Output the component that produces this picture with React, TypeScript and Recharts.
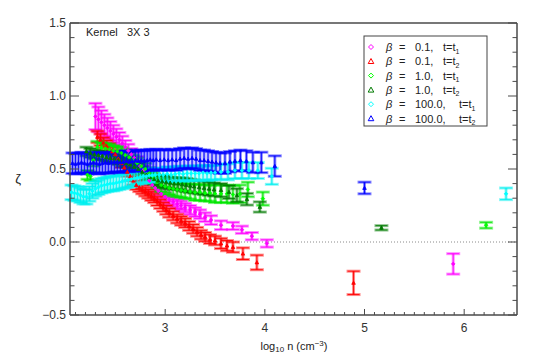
import { ComposedChart, Scatter, ErrorBar, XAxis, YAxis, ReferenceLine, Customized } from 'recharts';

// each point: [log10 n, zeta, error]
type Pt = [number, number, number];

const magentaT1: Pt[] = [
  [2.30, 0.86, 0.09], [2.33, 0.84, 0.085], [2.36, 0.82, 0.08], [2.39, 0.80, 0.075], [2.42, 0.78, 0.07],
  [2.45, 0.76, 0.065], [2.48, 0.74, 0.06], [2.51, 0.72, 0.055], [2.54, 0.70, 0.05], [2.57, 0.675, 0.05],
  [2.60, 0.65, 0.045], [2.63, 0.625, 0.045], [2.66, 0.60, 0.04], [2.69, 0.575, 0.04], [2.72, 0.55, 0.035],
  [2.75, 0.52, 0.035], [2.78, 0.49, 0.035], [2.81, 0.455, 0.035], [2.84, 0.42, 0.03], [2.87, 0.39, 0.03],
  [2.90, 0.37, 0.03], [2.93, 0.35, 0.03], [2.96, 0.33, 0.03], [3.00, 0.31, 0.03], [3.04, 0.29, 0.03],
  [3.08, 0.275, 0.03], [3.12, 0.26, 0.03], [3.16, 0.25, 0.03], [3.20, 0.235, 0.03], [3.25, 0.22, 0.03],
  [3.30, 0.205, 0.03], [3.35, 0.19, 0.03], [3.40, 0.17, 0.03], [3.46, 0.15, 0.03], [3.56, 0.115, 0.03],
  [3.68, 0.11, 0.025], [3.77, 0.084, 0.025], [3.87, 0.04, 0.025], [4.02, -0.01, 0.025], [5.89, -0.15, 0.07],
];

const redT2: Pt[] = [
  [2.32, 0.72, 0.04], [2.35, 0.70, 0.04], [2.38, 0.68, 0.035], [2.41, 0.66, 0.035], [2.44, 0.64, 0.035],
  [2.47, 0.62, 0.03], [2.50, 0.60, 0.03], [2.53, 0.57, 0.03], [2.56, 0.54, 0.03], [2.59, 0.51, 0.03],
  [2.62, 0.48, 0.03], [2.65, 0.45, 0.03], [2.68, 0.42, 0.03], [2.71, 0.39, 0.03], [2.74, 0.375, 0.03],
  [2.77, 0.36, 0.03], [2.80, 0.345, 0.03], [2.83, 0.33, 0.03], [2.86, 0.315, 0.03], [2.89, 0.30, 0.03],
  [2.92, 0.28, 0.03], [2.95, 0.26, 0.03], [2.98, 0.24, 0.03], [3.01, 0.22, 0.03], [3.04, 0.20, 0.03],
  [3.08, 0.18, 0.03], [3.12, 0.16, 0.03], [3.16, 0.145, 0.03], [3.20, 0.13, 0.03], [3.24, 0.11, 0.03],
  [3.28, 0.09, 0.03], [3.32, 0.07, 0.03], [3.36, 0.05, 0.03], [3.40, 0.035, 0.03], [3.45, 0.02, 0.03],
  [3.50, 0.01, 0.03], [3.56, -0.01, 0.035], [3.62, -0.025, 0.035], [3.68, -0.035, 0.035], [3.78, -0.08, 0.04],
  [3.92, -0.14, 0.05], [4.89, -0.28, 0.08],
];

const greenT1: Pt[] = [
  [2.22, 0.46, 0.03], [2.25, 0.45, 0.03], [2.28, 0.56, 0.04], [2.32, 0.65, 0.04], [2.36, 0.645, 0.035],
  [2.40, 0.64, 0.035], [2.44, 0.635, 0.035], [2.48, 0.625, 0.035], [2.52, 0.62, 0.035], [2.56, 0.61, 0.035],
  [2.60, 0.595, 0.035], [2.64, 0.58, 0.035], [2.68, 0.56, 0.035], [2.72, 0.54, 0.035], [2.76, 0.52, 0.035],
  [2.80, 0.50, 0.04], [2.84, 0.47, 0.04], [2.88, 0.44, 0.04], [2.92, 0.41, 0.04], [2.96, 0.39, 0.045],
  [3.00, 0.38, 0.045], [3.04, 0.37, 0.045], [3.08, 0.365, 0.05], [3.12, 0.36, 0.05], [3.16, 0.355, 0.05],
  [3.20, 0.35, 0.05], [3.25, 0.345, 0.05], [3.30, 0.34, 0.055], [3.35, 0.34, 0.055], [3.40, 0.335, 0.055],
  [3.45, 0.335, 0.055], [3.50, 0.33, 0.06], [3.56, 0.33, 0.06], [3.62, 0.33, 0.06], [3.68, 0.325, 0.06],
  [3.75, 0.33, 0.06], [3.83, 0.36, 0.05], [3.98, 0.297, 0.045], [6.22, 0.115, 0.02],
];

const darkGreenT2: Pt[] = [
  [2.21, 0.62, 0.03], [2.25, 0.61, 0.03], [2.29, 0.60, 0.03], [2.33, 0.595, 0.03], [2.37, 0.59, 0.03],
  [2.41, 0.58, 0.03], [2.45, 0.575, 0.03], [2.49, 0.57, 0.03], [2.53, 0.56, 0.03], [2.57, 0.55, 0.03],
  [2.61, 0.54, 0.03], [2.65, 0.53, 0.03], [2.69, 0.515, 0.03], [2.73, 0.50, 0.035], [2.77, 0.48, 0.035],
  [2.81, 0.46, 0.035], [2.85, 0.445, 0.035], [2.89, 0.43, 0.035], [2.93, 0.42, 0.035], [2.97, 0.415, 0.04],
  [3.01, 0.41, 0.04], [3.05, 0.405, 0.04], [3.09, 0.40, 0.04], [3.13, 0.40, 0.04], [3.17, 0.395, 0.045],
  [3.21, 0.39, 0.045], [3.25, 0.385, 0.045], [3.29, 0.38, 0.045], [3.34, 0.375, 0.045], [3.39, 0.37, 0.045],
  [3.44, 0.365, 0.045], [3.49, 0.36, 0.045], [3.56, 0.355, 0.045], [3.64, 0.342, 0.045], [3.72, 0.32, 0.045],
  [3.82, 0.293, 0.04], [3.95, 0.24, 0.035], [5.17, 0.097, 0.015],
];

const cyanT1: Pt[] = [
  [2.06, 0.34, 0.05], [2.09, 0.335, 0.05], [2.12, 0.33, 0.05], [2.15, 0.32, 0.05], [2.18, 0.31, 0.05],
  [2.21, 0.31, 0.05], [2.24, 0.33, 0.05], [2.27, 0.35, 0.05], [2.30, 0.365, 0.05], [2.33, 0.375, 0.05],
  [2.36, 0.385, 0.05], [2.39, 0.39, 0.05], [2.42, 0.395, 0.05], [2.45, 0.40, 0.05], [2.48, 0.40, 0.05],
  [2.51, 0.405, 0.05], [2.54, 0.41, 0.05], [2.57, 0.415, 0.05], [2.60, 0.42, 0.05], [2.63, 0.425, 0.05],
  [2.66, 0.43, 0.05], [2.69, 0.435, 0.05], [2.72, 0.44, 0.045], [2.75, 0.445, 0.045], [2.78, 0.45, 0.045],
  [2.81, 0.45, 0.045], [2.84, 0.455, 0.045], [2.87, 0.455, 0.045], [2.90, 0.46, 0.045], [2.94, 0.46, 0.045],
  [2.98, 0.46, 0.045], [3.02, 0.465, 0.05], [3.06, 0.46, 0.05], [3.10, 0.465, 0.05], [3.14, 0.47, 0.05],
  [3.18, 0.465, 0.05], [3.22, 0.47, 0.05], [3.26, 0.47, 0.05], [3.30, 0.47, 0.05], [3.34, 0.47, 0.05],
  [3.38, 0.475, 0.05], [3.42, 0.47, 0.05], [3.46, 0.475, 0.05], [3.50, 0.475, 0.05], [3.56, 0.48, 0.05],
  [3.63, 0.48, 0.055], [3.70, 0.49, 0.055], [3.77, 0.49, 0.055], [3.84, 0.49, 0.055], [3.93, 0.49, 0.055],
  [4.07, 0.45, 0.055], [6.42, 0.33, 0.04],
];

const blueT2: Pt[] = [
  [2.07, 0.54, 0.07], [2.10, 0.535, 0.07], [2.13, 0.54, 0.07], [2.16, 0.545, 0.07], [2.19, 0.54, 0.07],
  [2.22, 0.535, 0.07], [2.25, 0.54, 0.07], [2.28, 0.545, 0.07], [2.31, 0.54, 0.07], [2.34, 0.535, 0.07],
  [2.37, 0.54, 0.07], [2.40, 0.545, 0.07], [2.43, 0.54, 0.07], [2.46, 0.545, 0.07], [2.49, 0.55, 0.07],
  [2.52, 0.55, 0.07], [2.55, 0.545, 0.07], [2.58, 0.55, 0.07], [2.61, 0.555, 0.07], [2.64, 0.55, 0.07],
  [2.67, 0.555, 0.07], [2.70, 0.56, 0.07], [2.73, 0.555, 0.07], [2.76, 0.56, 0.07], [2.79, 0.555, 0.07],
  [2.82, 0.56, 0.07], [2.85, 0.565, 0.07], [2.88, 0.56, 0.07], [2.91, 0.565, 0.07], [2.95, 0.56, 0.07],
  [2.99, 0.565, 0.07], [3.03, 0.56, 0.07], [3.07, 0.565, 0.07], [3.11, 0.56, 0.07], [3.15, 0.57, 0.07],
  [3.19, 0.575, 0.07], [3.23, 0.57, 0.07], [3.27, 0.575, 0.07], [3.31, 0.57, 0.07], [3.35, 0.56, 0.07],
  [3.39, 0.56, 0.07], [3.43, 0.555, 0.07], [3.47, 0.55, 0.07], [3.51, 0.545, 0.07], [3.55, 0.54, 0.07],
  [3.60, 0.54, 0.07], [3.65, 0.55, 0.07], [3.70, 0.555, 0.07], [3.755, 0.56, 0.07], [3.815, 0.555, 0.07],
  [3.88, 0.545, 0.07], [3.965, 0.545, 0.07], [4.10, 0.52, 0.07], [5.00, 0.37, 0.04],
];

const xTicks = [
  2.1, 2.2, 2.3, 2.4, 2.5, 2.6, 2.7, 2.8, 2.9, 3.0, 3.1, 3.2, 3.3, 3.4, 3.5, 3.6, 3.7, 3.8, 3.9,
  4.0, 4.1, 4.2, 4.3, 4.4, 4.5, 4.6, 4.7, 4.8, 4.9, 5.0, 5.1, 5.2, 5.3, 5.4, 5.5, 5.6, 5.7, 5.8, 5.9,
  6.0, 6.1, 6.2, 6.3, 6.4, 6.5,
];
const yTicks = [
  -0.5, -0.4, -0.3, -0.2, -0.1, 0.0, 0.1, 0.2, 0.3, 0.4, 0.5, 0.6, 0.7, 0.8, 0.9, 1.0,
  1.1, 1.2, 1.3, 1.4, 1.5,
];

const betaLabels = ['0.1', '0.1', '1.0', '1.0', '100.0', '100.0'];
const timeLabels = ['1', '2', '1', '2', '1', '2'];

const series = [
  { data: magentaT1, color: '#ff00ff', bar: '255,0,255', marker: 'diamond' },
  { data: redT2, color: '#ff0000', bar: '255,0,0', marker: 'triangle' },
  { data: greenT1, color: '#00ff00', bar: '0,230,0', marker: 'diamond' },
  { data: darkGreenT2, color: '#007a00', bar: '0,122,0', marker: 'triangle' },
  { data: cyanT1, color: '#00ffff', bar: '0,240,240', marker: 'diamond' },
  { data: blueT2, color: '#0000ff', bar: '0,0,255', marker: 'triangle' },
];

const W = 538;
const H = 360;
// axes take 1px each, so the plot box is 70..517 x 23..315
const M = { top: 22, right: 20, bottom: 44, left: 69 };
const AXIS = '#4a4a4a';
const FONT = '"Liberation Sans", Arial, sans-serif';

const onStep = (v: number, step: number) => Math.abs(v / step - Math.round(v / step)) < 1e-6;

function Marker({ cx, cy, kind, color, r = 1.8 }: any) {
  if (cx == null || cy == null) return null;
  const pts =
    kind === 'diamond'
      ? `${cx},${cy - r} ${cx + r},${cy} ${cx},${cy + r} ${cx - r},${cy}`
      : `${cx},${cy - r} ${cx + r},${cy + r * 0.8} ${cx - r},${cy + r * 0.8}`;
  return <polygon points={pts} fill={color} stroke={color} strokeWidth={0.8} />;
}

function BottomTick({ x, y, payload }: any) {
  const major = onStep(payload.value, 1);
  return (
    <g>
      <line x1={x} x2={x} y1={y} y2={y - (major ? 6 : 3)} stroke={AXIS} strokeWidth={1} />
      {major && (
        <text x={x} y={y + 17} textAnchor="middle" fontSize={12} fontFamily={FONT} fill="#333">
          {Math.round(payload.value)}
        </text>
      )}
    </g>
  );
}

function TopTick({ x, y, payload }: any) {
  const major = onStep(payload.value, 1);
  return <line x1={x} x2={x} y1={y} y2={y + (major ? 6 : 3)} stroke={AXIS} strokeWidth={1} />;
}

function LeftTick({ x, y, payload }: any) {
  const major = onStep(payload.value, 0.5);
  const v = payload.value;
  const label = (v < 0 ? '\u2212' : '') + Math.abs(v).toFixed(1);
  return (
    <g>
      <line x1={x} x2={x + (major ? 9 : 4.5)} y1={y} y2={y} stroke={AXIS} strokeWidth={1} />
      {major && (
        <text x={x - 4} y={y + 4} textAnchor="end" fontSize={12} fontFamily={FONT} fill="#333">
          {label}
        </text>
      )}
    </g>
  );
}

function RightTick({ x, y, payload }: any) {
  const major = onStep(payload.value, 0.5);
  return <line x1={x} x2={x - (major ? 9 : 4.5)} y1={y} y2={y} stroke={AXIS} strokeWidth={1} />;
}

function Annotations() {
  const lx = 364;
  const ly = 36;
  const rowH = 14.3;
  return (
    <g fontFamily={FONT} fill="#222">
      <text x={86} y={36} fontSize={11} style={{ whiteSpace: 'pre' }}>
        {'Kernel   3X 3'}
      </text>
      <text x={18} y={183} fontSize={13} textAnchor="middle">
        {'\u03b6'}
      </text>
      <text x={294} y={350} fontSize={11} textAnchor="middle" style={{ whiteSpace: 'pre' }}>
        <tspan>log</tspan>
        <tspan fontSize={8} dy={2}>10</tspan>
        <tspan dy={-2}>{' n (cm'}</tspan>
        <tspan fontSize={8} dy={-4}>{'\u22123'}</tspan>
        <tspan dy={4}>)</tspan>
      </text>
      <rect x={lx} y={ly} width={123} height={90} fill="#fff" stroke="#444" strokeWidth={1} />
      {series.map((s, i) => {
        const cy = ly + 11 + i * rowH;
        const long = betaLabels[i].length > 3;
        return (
          <g key={i}>
            {s.marker === 'diamond' ? (
              <polygon points={`371,${cy - 2.5} 373.5,${cy} 371,${cy + 2.5} 368.5,${cy}`} stroke={s.color} strokeWidth={1} fill="none" />
            ) : (
              <polygon points={`371,${cy - 2.8} 373.8,${cy + 2.2} 368.2,${cy + 2.2}`} stroke={s.color} strokeWidth={1} fill="none" />
            )}
            <text y={cy + 4} fontSize={11}>
              <tspan x={386} fontStyle="italic">{'\u03b2'}</tspan>
              <tspan x={399}>=</tspan>
              <tspan x={415}>{betaLabels[i] + ','}</tspan>
              <tspan x={long ? 459 : 443}>t=t</tspan>
              <tspan fontSize={7} dy={2.5}>{timeLabels[i]}</tspan>
            </text>
          </g>
        );
      })}
    </g>
  );
}

export default function App() {
  return (
    <div style={{ position: 'absolute', left: 0, top: 0, background: '#fff' }}>
      <ComposedChart width={W} height={H} margin={M}>
        <XAxis
          xAxisId={0}
          type="number"
          dataKey="x"
          domain={[2.045, 6.53]}
          allowDataOverflow
          ticks={xTicks}
          interval={0}
          height={1}
          tickSize={0}
          tickMargin={0}
          tickLine={false}
          axisLine={{ stroke: AXIS, strokeWidth: 1.5 }}
          tick={<BottomTick />}
        />
        <XAxis
          xAxisId="top"
          orientation="top"
          type="number"
          domain={[2.045, 6.53]}
          allowDataOverflow
          ticks={xTicks}
          interval={0}
          height={1}
          tickSize={0}
          tickMargin={0}
          tickLine={false}
          axisLine={{ stroke: AXIS, strokeWidth: 1.5 }}
          tick={<TopTick />}
        />
        <YAxis
          yAxisId={0}
          type="number"
          domain={[-0.5, 1.5]}
          allowDataOverflow
          ticks={yTicks}
          interval={0}
          width={1}
          tickSize={0}
          tickMargin={0}
          tickLine={false}
          axisLine={{ stroke: AXIS, strokeWidth: 1.5 }}
          tick={<LeftTick />}
        />
        <YAxis
          yAxisId="right"
          orientation="right"
          type="number"
          domain={[-0.5, 1.5]}
          allowDataOverflow
          ticks={yTicks}
          interval={0}
          width={1}
          tickSize={0}
          tickMargin={0}
          tickLine={false}
          axisLine={{ stroke: AXIS, strokeWidth: 1.5 }}
          tick={<RightTick />}
        />
        <ReferenceLine y={0} stroke="#8a8a8a" strokeDasharray="1 2" strokeWidth={1} />
        {series.map((s, i) => (
          <Scatter
            key={i}
            data={s.data.map(([x, y, err]) => ({ x, y, err }))}
            dataKey="y"
            isAnimationActive={false}
            shape={(p: any) => <Marker cx={p.cx} cy={p.cy} kind={s.marker} color={s.color} />}
          >
            <ErrorBar dataKey="err" direction="y" width={7} stroke={`rgba(${s.bar},0.45)`} strokeWidth={3} />
            <ErrorBar dataKey="err" direction="y" width={6} stroke={`rgba(${s.bar},0.9)`} strokeWidth={1} />
          </Scatter>
        ))}
        <Customized component={Annotations} />
      </ComposedChart>
    </div>
  );
}
